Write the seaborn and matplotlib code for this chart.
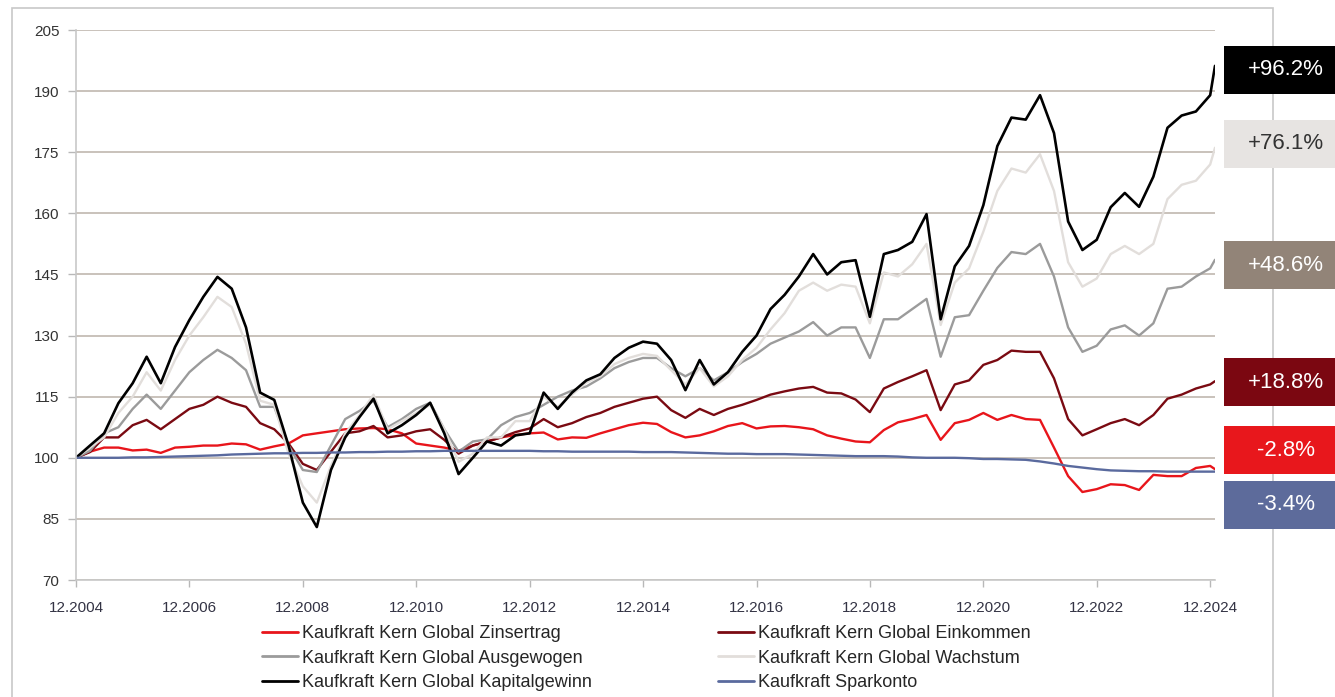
import numpy as np
import pandas as pd
import matplotlib
matplotlib.use("Agg")
import matplotlib.pyplot as plt
import matplotlib.transforms as mtransforms
from matplotlib.patches import Rectangle
import seaborn as sns

# ---------------- data (quarterly + Jan 2025) ----------------
dates = list(pd.date_range("2004-12-31", "2024-12-31", freq="QE")) + [pd.Timestamp("2025-01-31")]

zinsertrag = [100.0, 101.5, 102.5, 102.5, 101.8, 102.0, 101.2, 102.5, 102.7, 103.0,
              103.0, 103.5, 103.3, 102.0, 102.8, 103.5, 105.5, 106.0, 106.5, 107.0,
              107.2, 107.3, 107.0, 106.0, 103.5, 103.0, 102.5, 101.7, 103.0, 104.0,
              105.0, 105.6, 106.0, 106.2, 104.5, 105.0, 104.9, 106.0, 107.0, 108.0,
              108.6, 108.3, 106.3, 105.0, 105.5, 106.5, 107.8, 108.5, 107.2, 107.7,
              107.8, 107.5, 107.0, 105.5, 104.7, 104.0, 103.8, 106.8, 108.7, 109.5,
              110.5, 104.4, 108.5, 109.3, 111.0, 109.3, 110.5, 109.5, 109.3, 102.5,
              95.5, 91.6, 92.3, 93.5, 93.3, 92.1, 95.8, 95.5, 95.5, 97.5,
              98.0, 97.2]

einkommen = [100.0, 101.4, 105.0, 105.0, 108.0, 109.3, 107.0, 109.5, 112.0, 113.0,
             115.0, 113.5, 112.5, 108.5, 107.0, 103.5, 98.5, 97.0, 101.5, 106.0,
             106.5, 107.8, 105.0, 105.5, 106.5, 107.0, 104.4, 101.0, 103.0, 104.0,
             105.0, 106.3, 107.2, 109.5, 107.5, 108.5, 110.0, 111.0, 112.5, 113.5,
             114.5, 115.0, 111.7, 109.8, 112.0, 110.5, 112.0, 113.0, 114.2, 115.5,
             116.3, 117.0, 117.4, 116.0, 115.8, 114.3, 111.2, 117.0, 118.6, 120.0,
             121.5, 111.7, 118.0, 119.0, 122.8, 124.0, 126.3, 126.0, 126.0, 119.5,
             109.5, 105.5, 107.0, 108.5, 109.5, 108.0, 110.5, 114.5, 115.5, 117.0,
             118.0, 118.8]

ausgewogen = [100.0, 101.7, 106.0, 107.5, 112.0, 115.5, 112.0, 116.5, 121.0, 124.0,
              126.5, 124.5, 121.5, 112.5, 112.5, 103.0, 97.0, 96.5, 103.0, 109.5,
              111.5, 114.0, 107.5, 109.5, 112.0, 113.5, 107.0, 101.5, 104.0, 104.5,
              108.0, 110.0, 111.0, 113.0, 115.0, 116.5, 117.5, 119.5, 122.0, 123.5,
              124.5, 124.5, 122.0, 120.0, 122.0, 119.0, 121.0, 123.5, 125.5, 128.0,
              129.5, 131.0, 133.3, 130.0, 132.0, 132.0, 124.5, 134.0, 134.0, 136.5,
              139.0, 124.8, 134.5, 135.0, 141.0, 146.6, 150.5, 150.0, 152.5, 144.5,
              132.0, 126.0, 127.5, 131.5, 132.5, 130.0, 133.0, 141.5, 142.0, 144.5,
              146.5, 148.6]

wachstum = [100.0, 102.5, 105.0, 111.0, 115.0, 121.0, 116.5, 124.0, 130.0, 134.5,
            139.5, 137.0, 128.0, 114.0, 113.0, 101.0, 93.0, 89.0, 98.0, 106.0,
            110.5, 115.5, 107.0, 109.0, 111.0, 113.0, 107.0, 99.0, 101.0, 105.0,
            105.0, 109.0, 109.0, 115.0, 112.5, 115.5, 118.5, 120.0, 123.0, 124.5,
            125.5, 125.0, 121.5, 118.0, 122.0, 117.5, 120.0, 124.0, 127.0, 131.5,
            135.5, 141.0, 143.0, 141.0, 142.5, 142.0, 133.0, 145.5, 144.5, 147.5,
            152.5, 132.6, 143.0, 146.5, 155.5, 165.5, 171.0, 170.0, 174.5, 165.5,
            148.0, 142.0, 144.0, 150.0, 152.0, 150.0, 152.5, 163.5, 167.0, 168.0,
            172.0, 176.1]

kapitalgewinn = [100.0, 103.0, 106.0, 113.4, 118.3, 124.8, 118.3, 127.2, 133.8, 139.5,
                 144.4, 141.5, 132.0, 116.0, 114.2, 103.0, 89.0, 83.0, 97.0, 105.0,
                 110.0, 114.5, 106.0, 108.0, 110.5, 113.5, 106.0, 96.0, 100.0, 104.0,
                 103.0, 105.5, 106.0, 116.0, 112.0, 116.0, 119.0, 120.5, 124.5, 127.0,
                 128.5, 128.0, 124.0, 116.6, 124.0, 118.0, 121.0, 126.0, 130.0, 136.5,
                 140.0, 144.5, 150.0, 145.0, 148.0, 148.5, 134.6, 150.0, 151.0, 153.0,
                 159.8, 134.0, 147.0, 152.0, 162.0, 176.5, 183.5, 183.0, 189.0, 179.7,
                 158.0, 151.0, 153.5, 161.5, 165.0, 161.6, 169.0, 181.0, 184.0, 185.0,
                 189.0, 196.2]

sparkonto = [100.0, 100.0, 100.0, 100.0, 100.1, 100.1, 100.2, 100.3, 100.4, 100.5,
             100.6, 100.8, 100.9, 101.0, 101.1, 101.1, 101.2, 101.2, 101.3, 101.3,
             101.4, 101.4, 101.5, 101.5, 101.6, 101.6, 101.7, 101.7, 101.7, 101.7,
             101.7, 101.7, 101.7, 101.6, 101.6, 101.5, 101.5, 101.5, 101.5, 101.5,
             101.4, 101.4, 101.4, 101.3, 101.2, 101.1, 101.0, 101.0, 100.9, 100.9,
             100.9, 100.8, 100.7, 100.6, 100.5, 100.4, 100.4, 100.4, 100.3, 100.1,
             100.0, 100.0, 100.0, 99.9, 99.7, 99.7, 99.6, 99.5, 99.1, 98.6,
             98.0, 97.6, 97.2, 96.9, 96.8, 96.7, 96.7, 96.6, 96.6, 96.6,
             96.6, 96.6]

series_names = ["Kaufkraft Kern Global Zinsertrag", "Kaufkraft Kern Global Einkommen",
                "Kaufkraft Kern Global Ausgewogen", "Kaufkraft Kern Global Wachstum",
                "Kaufkraft Kern Global Kapitalgewinn", "Kaufkraft Sparkonto"]
series_values = [zinsertrag, einkommen, ausgewogen, wachstum, kapitalgewinn, sparkonto]
series_colors = ["#e8151b", "#7a0a12", "#9b9b9b", "#e2dedb", "#000000", "#5a6a9e"]
series_widths = [1.7, 1.7, 1.7, 1.7, 1.9, 1.7]

end_labels = ["+96.2%", "+76.1%", "+48.6%", "+18.8%", "-2.8%", "-3.4%"]
end_box_colors = ["#000000", "#e7e4e2", "#928478", "#7b0711", "#e8171c", "#5d6b9b"]
end_text_colors = ["#ffffff", "#333333", "#ffffff", "#ffffff", "#ffffff", "#ffffff"]
end_label_centers = [195.2, 177.1, 147.3, 118.5, 101.8, 88.5]  # layout positions (y, data units)

tick_dates = pd.to_datetime([f"{y}-12-31" for y in range(2004, 2025, 2)])
tick_labels = [f"12.{y}" for y in range(2004, 2025, 2)]
y_ticks = list(range(70, 206, 15))

# ---------------- plotting ----------------
sns.set_theme(style="white")
plt.rcParams["font.family"] = ["Liberation Sans", "DejaVu Sans"]

W, H = 1335, 697
fig = plt.figure(figsize=(W / 100, H / 100), dpi=100)
ax = fig.add_axes([76 / W, 1 - 580 / H, (1215 - 76) / W, 550 / H])

df = pd.DataFrame({"date": dates})
for name, vals, col, lw in zip(series_names, series_values, series_colors, series_widths):
    sns.lineplot(x=df["date"], y=vals, ax=ax, color=col, linewidth=lw, label=name)

ax.set_xlim(dates[0], dates[-1])
ax.set_ylim(70, 205)
ax.set_yticks(y_ticks)
ax.set_yticklabels([str(v) for v in y_ticks])
ax.set_xticks(tick_dates)
ax.set_xticklabels(tick_labels)
ax.set_xlabel("")
ax.set_ylabel("")
ax.grid(axis="y", color="#c5bdb5", linewidth=1.3)
ax.grid(axis="x", visible=False)
ax.set_axisbelow(True)
for s in ["top", "right"]:
    ax.spines[s].set_visible(False)
for s in ["left", "bottom"]:
    ax.spines[s].set_color("#c8c8c8")
    ax.spines[s].set_linewidth(1.2)
ax.tick_params(axis="y", length=6, width=1, color="#b8b8b8", labelsize=11,
               labelcolor="#333333", pad=6, left=True)
ax.tick_params(axis="x", length=5, width=1, color="#b8b8b8", labelsize=11,
               labelcolor="#333344", pad=10, bottom=True)

# legend: order rows (Zinsertrag, Einkommen), (Ausgewogen, Wachstum), (Kapitalgewinn, Sparkonto)
handles, labels = ax.get_legend_handles_labels()
order = [0, 2, 4, 1, 3, 5]
ax.legend([handles[i] for i in order], [labels[i] for i in order], ncol=2,
          loc="upper left", bbox_to_anchor=(262 / W, 1 - 625 / H),
          bbox_transform=fig.transFigure, frameon=False, fontsize=13,
          handlelength=2.0, handletextpad=0.2, columnspacing=7.0,
          labelspacing=0.42, borderpad=0, borderaxespad=0)
for line in ax.get_legend().get_lines():
    line.set_linewidth(2.0)

# end-value boxes on the right
trans = mtransforms.blended_transform_factory(fig.transFigure, ax.transData)
box_h = 48 / 550 * 135
for txt, cy, fc, tc in zip(end_labels, end_label_centers, end_box_colors, end_text_colors):
    ax.add_patch(Rectangle((1224 / W, cy - box_h / 2), (W - 1224) / W + 0.01, box_h,
                           transform=trans, facecolor=fc, edgecolor="none",
                           clip_on=False, zorder=5))
    ax.text(1286 / W, cy, txt, transform=trans, ha="center", va="center",
            fontsize=16, color=tc, clip_on=False, zorder=6)

# outer frame
fig.add_artist(Rectangle((12 / W, -0.05), (1273 - 12) / W, 1 - 8 / H + 0.05,
                         transform=fig.transFigure, fill=False,
                         edgecolor="#c8c8c8", linewidth=1.2, zorder=-1))

fig.savefig("out.png", dpi=100, facecolor="white")
